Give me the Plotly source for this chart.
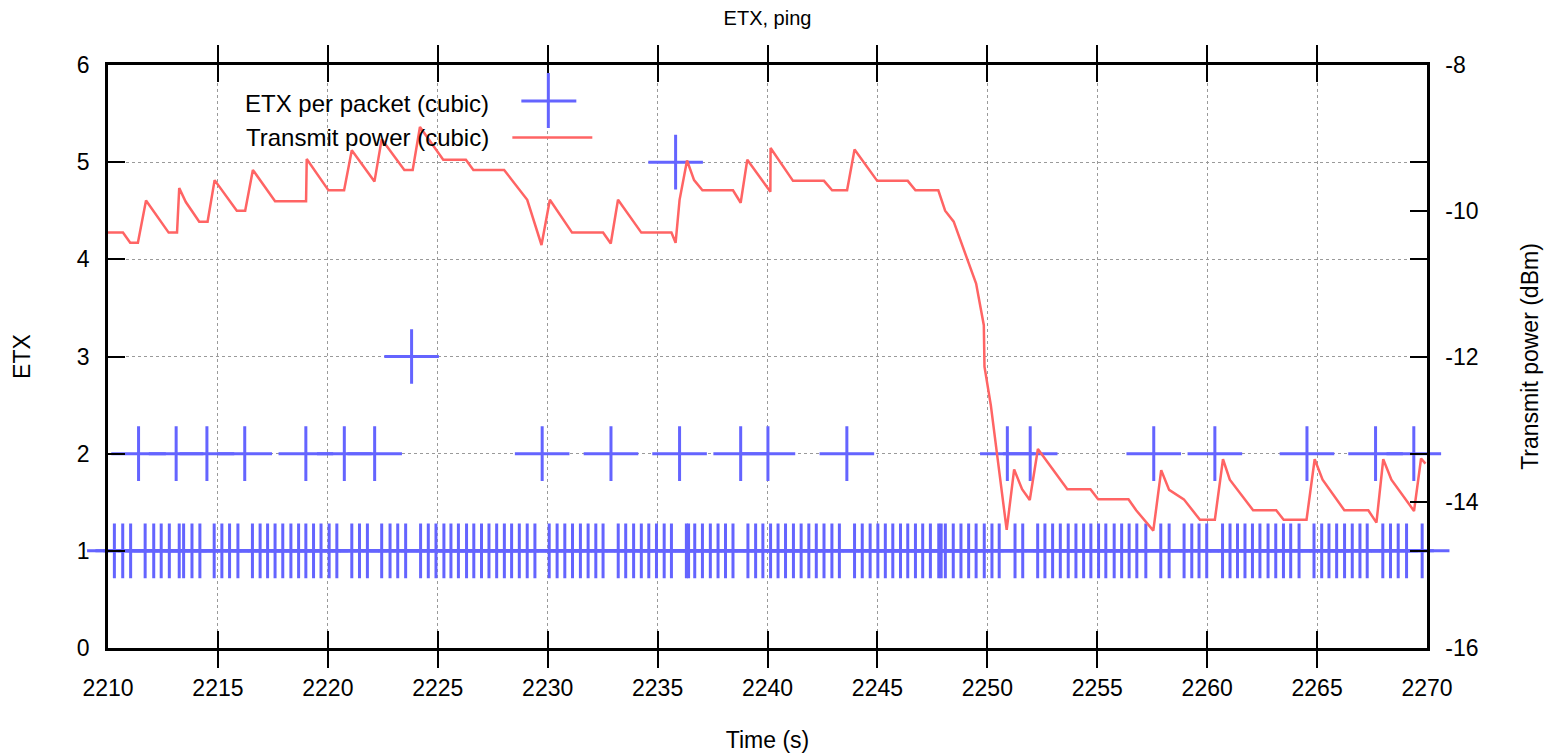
import plotly.graph_objects as go

# ---------------- data ----------------
etx1_t = [2210.29, 2210.67, 2211.03, 2211.69, 2212.08, 2212.42, 2212.79, 2213.24, 2213.44, 2213.82,
          2214.18, 2214.83, 2215.18, 2215.53, 2215.91, 2216.57, 2216.92, 2217.26, 2217.60, 2217.95,
          2218.32, 2218.67, 2219.00, 2219.35, 2219.69, 2220.06, 2220.41, 2221.09, 2221.44, 2221.80,
          2222.45, 2222.83, 2223.18, 2223.54, 2224.22, 2224.57, 2224.92, 2225.28, 2225.60, 2225.94,
          2226.31, 2226.64, 2226.99, 2227.33, 2227.68, 2228.03, 2228.36, 2228.71, 2229.07, 2229.42,
          2230.07, 2230.43, 2230.78, 2231.13, 2231.49, 2231.84, 2232.19, 2232.52, 2233.21, 2233.55,
          2233.91, 2234.26, 2234.60, 2234.95, 2235.30, 2235.63, 2236.31, 2236.41, 2236.69, 2237.04,
          2237.40, 2237.75, 2238.09, 2238.43, 2239.11, 2239.46, 2239.79, 2240.14, 2240.48, 2240.82,
          2241.18, 2241.53, 2241.88, 2242.22, 2242.57, 2242.93, 2243.27, 2243.96, 2244.31, 2244.67,
          2245.02, 2245.36, 2245.70, 2246.05, 2246.38, 2246.73, 2247.06, 2247.41, 2247.79, 2247.90,
          2248.09, 2248.45, 2248.80, 2249.15, 2249.49, 2249.86, 2250.21, 2250.54, 2251.26, 2251.61,
          2252.29, 2252.62, 2252.97, 2253.32, 2253.68, 2254.03, 2254.38, 2254.71, 2255.06, 2255.39,
          2255.77, 2256.11, 2256.45, 2256.80, 2257.21, 2257.89, 2258.27, 2258.95, 2259.30, 2259.63,
          2259.98, 2260.70, 2261.04, 2261.38, 2261.72, 2262.06, 2262.40, 2262.77, 2263.12, 2263.47,
          2263.80, 2264.18, 2264.86, 2265.21, 2265.54, 2265.89, 2266.25, 2266.60, 2266.95, 2267.28,
          2267.99, 2268.34, 2268.69, 2269.07, 2269.78]

etx2_t = [2211.39, 2213.10, 2214.50, 2216.22, 2219.00, 2220.75, 2222.13, 2229.75, 2232.88, 2236.00,
          2238.78, 2240.02, 2243.61, 2250.91, 2251.95, 2257.57, 2260.35, 2264.54, 2267.66, 2269.40]

etx3_t = [2223.81]
etx5_t = [2235.82]

etx_time = etx1_t + etx2_t + etx3_t + etx5_t
etx_value = [1] * len(etx1_t) + [2] * len(etx2_t) + [3] * len(etx3_t) + [5] * len(etx5_t)

power_time = [2210.00, 2210.68, 2211.01, 2211.36, 2211.73, 2212.76, 2213.14, 2213.24, 2213.54, 2214.15,
              2214.53, 2214.85, 2215.86, 2216.24, 2216.59, 2217.60, 2219.01, 2219.04, 2220.03, 2220.74,
              2221.09, 2222.12, 2222.45, 2223.48, 2223.86, 2224.19, 2225.25, 2226.28, 2226.62, 2228.02,
              2229.07, 2229.72, 2230.10, 2231.11, 2232.52, 2232.87, 2233.20, 2234.26, 2235.63, 2235.82,
              2236.00, 2236.34, 2236.66, 2237.04, 2238.43, 2238.78, 2239.08, 2240.13, 2240.14, 2241.16,
              2242.57, 2242.94, 2243.62, 2243.96, 2244.99, 2246.38, 2246.73, 2247.77, 2248.08, 2248.47,
              2249.49, 2249.84, 2249.87, 2250.16, 2250.88, 2251.22, 2251.58, 2251.93, 2252.30, 2253.64,
              2254.69, 2255.04, 2256.42, 2256.77, 2257.55, 2257.91, 2258.27, 2258.94, 2259.67, 2260.35,
              2260.72, 2261.03, 2262.09, 2263.14, 2263.48, 2264.52, 2264.89, 2265.25, 2266.24, 2267.33,
              2267.70, 2268.01, 2268.38, 2269.41, 2269.73, 2269.93]

power_dbm = [-10.30, -10.30, -10.44, -10.44, -9.86, -10.30, -10.30, -9.69, -9.88, -10.15,
             -10.15, -9.58, -10.00, -10.00, -9.44, -9.87, -9.87, -9.29, -9.72, -9.72,
             -9.17, -9.60, -9.02, -9.44, -9.44, -8.85, -9.30, -9.30, -9.44, -9.44,
             -9.85, -10.47, -9.85, -10.30, -10.30, -10.45, -9.85, -10.30, -10.30, -10.44,
             -9.85, -9.31, -9.58, -9.72, -9.72, -9.89, -9.30, -9.74, -9.14, -9.59,
             -9.59, -9.72, -9.72, -9.16, -9.59, -9.59, -9.72, -9.72, -10.00, -10.15,
             -11.00, -11.57, -12.14, -12.67, -14.38, -13.55, -13.82, -13.97, -13.27, -13.82,
             -13.82, -13.96, -13.96, -14.11, -14.39, -13.56, -13.83, -13.96, -14.24, -14.24,
             -13.41, -13.69, -14.11, -14.11, -14.24, -14.24, -13.41, -13.69, -14.11, -14.11,
             -14.28, -13.41, -13.69, -14.12, -13.40, -13.47]

x_ticks = [2210, 2215, 2220, 2225, 2230, 2235, 2240, 2245, 2250, 2255, 2260, 2265, 2270]
y_ticks = [0, 1, 2, 3, 4, 5, 6]
y2_ticks = [-16, -14, -12, -10, -8]
y2_labels = ["-16", "-14", "-12", "-10", "-8"]

etx_name = "ETX per packet (cubic)"
power_name = "Transmit power (cubic)"

# ---------------- styling ----------------
BLUE = "#6464ff"
RED = "#ff6464"
FONT = "Liberation Sans, Arial, Helvetica, sans-serif"

W, H = 1551, 753
PL, PR, PT, PB = 107.5, 1427, 65, 648          # plot area in window pixels
L, T = PL, PT
R, B = W - PR, H - PB
pw, ph = PR - PL, PB - PT


def px(x):
    return (x - PL) / pw


def py(y):
    return (PB - y) / ph


fig = go.Figure()

fig.add_trace(go.Scatter(
    x=power_time, y=power_dbm, yaxis="y2", mode="lines", name=power_name,
    line=dict(color=RED, width=2.5), showlegend=False,
))

fig.add_trace(go.Scatter(
    x=etx_time, y=etx_value, mode="markers", name=etx_name,
    marker=dict(symbol="cross-thin", size=39, line=dict(color=BLUE, width=3), color=BLUE),
    cliponaxis=False, showlegend=False,
))

axis_common = dict(
    showline=True, linecolor="black", linewidth=2.5,
    ticks="inside", ticklen=17, tickwidth=2, tickcolor="black",
    tickfont=dict(family=FONT, size=23, color="black"),
    zeroline=False,
)

fig.update_layout(
    width=W, height=H,
    margin=dict(l=L, r=R, t=T, b=B, autoexpand=False),
    paper_bgcolor="white", plot_bgcolor="white",
    font=dict(family=FONT, size=23, color="black"),
    title=dict(text="ETX, ping", x=0.5, xref="paper", y=1 - 18 / H, yref="container",
               yanchor="middle", xanchor="center", font=dict(family=FONT, size=20, color="black")),
    xaxis=dict(range=[2210, 2270], tickvals=x_ticks, ticktext=[str(v) for v in x_ticks],
               mirror="allticks", showgrid=True, gridcolor="#9a9a9a", griddash="dot", gridwidth=1,
               ticklabelstandoff=18,
               title=dict(text="Time (s)", standoff=36, font=dict(family=FONT, size=23)),
               **axis_common),
    yaxis=dict(range=[0, 6], tickvals=y_ticks, mirror="allticks", showgrid=True,
               gridcolor="#9a9a9a", griddash="dot", gridwidth=1, ticklabelstandoff=11,
               title=dict(text="ETX", standoff=40, font=dict(family=FONT, size=23)),
               **axis_common),
    yaxis2=dict(range=[-16, -8], tickvals=y2_ticks, ticktext=y2_labels, overlaying="y", side="right",
                showgrid=False, ticklabelstandoff=11,
                title=dict(text="Transmit power (dBm)", standoff=45, font=dict(family=FONT, size=23)),
                **axis_common),
)

# key (gnuplot style: text on the left, sample on the right)
fig.add_annotation(text=etx_name, xref="paper", yref="paper", x=px(491), y=py(103),
                   xanchor="right", yanchor="middle", showarrow=False,
                   font=dict(family=FONT, size=24, color="black"))
fig.add_annotation(text=power_name, xref="paper", yref="paper", x=px(491), y=py(138),
                   xanchor="right", yanchor="middle", showarrow=False,
                   font=dict(family=FONT, size=24, color="black"))
fig.add_shape(type="line", xref="paper", yref="paper", x0=px(521), x1=px(576), y0=py(101), y1=py(101),
              line=dict(color=BLUE, width=3))
fig.add_shape(type="line", xref="paper", yref="paper", x0=px(548), x1=px(548), y0=py(73), y1=py(128),
              line=dict(color=BLUE, width=3))
fig.add_shape(type="line", xref="paper", yref="paper", x0=px(512), x1=px(592), y0=py(137.5), y1=py(137.5),
              line=dict(color=RED, width=2.5))

# remove the browser's default page margin so the figure fills the window exactly
fig.write_html("out.html",
               config={"displayModeBar": False},
               post_script="document.body.style.margin='0';document.body.style.overflow='hidden';")
